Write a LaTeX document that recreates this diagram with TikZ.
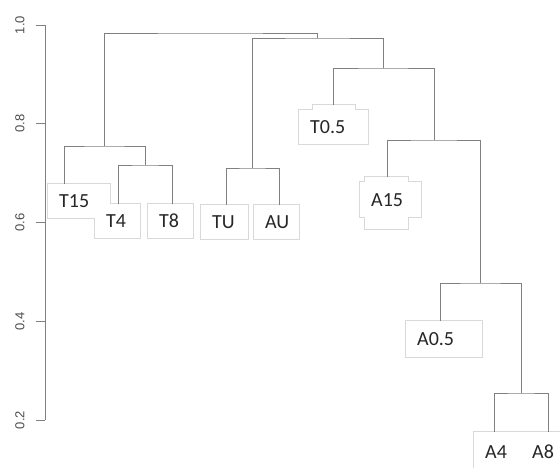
\documentclass[tikz,border=0pt]{standalone}
\usepackage{fontspec}
\setmainfont{Carlito}
\newfontfamily\axisfont{Liberation Sans}
\pgfdeclarelayer{edge}
\pgfsetlayers{edge,main}
\tikzset{
  branch/.style={draw=black!50, line width=1pt},
  axisline/.style={draw=black!50, line width=0.9pt},
  axislabel/.style={rotate=90, text=black!70, font=\axisfont\fontsize{13}{15}\selectfont},
  labbox/.style={fill=white, anchor=north west, minimum height=34pt, inner xsep=11pt, inner ysep=0pt, align=left, text=black!85, font=\fontsize{20}{22}\selectfont},
  boxline/.style={draw=black!15, line width=1.6pt}
}
\begin{document}
\begin{tikzpicture}[x=1pt,y=-1pt]
  \useasboundingbox (0,0) rectangle (560,467);
  \coordinate (axtop) at (45,25) ;
  \coordinate (axbot) at (45,420) ;
  \draw[axisline] (axtop) -- (axbot);
  \foreach \v/\y [count=\i] in {1.0/25, 0.8/123.75, 0.6/222.5, 0.4/321.25, 0.2/420} {
    \coordinate (tick\i) at (45,\y) ;
    \coordinate (tickend\i) at (36,\y) ;
    \draw[axisline] (tick\i) -- (tickend\i);
    \node[axislabel] (ticklab\i) at (20,\y) {\v};
  }
  \coordinate (m1) at (210,33) ;
  \coordinate (m2) at (317,38) ;
  \coordinate (m3) at (383,68) ;
  \coordinate (m4) at (434,140) ;
  \coordinate (m5) at (480,283) ;
  \coordinate (m6) at (521,393) ;
  \coordinate (mT) at (104,146) ;
  \coordinate (mT48) at (145,165) ;
  \coordinate (mU) at (252,168) ;
  \coordinate (t15tip) at (64,184) ;
  \coordinate (t4tip) at (118,204) ;
  \coordinate (t8tip) at (172,204) ;
  \coordinate (tutip) at (226,205) ;
  \coordinate (autip) at (279,205) ;
  \coordinate (t05tip) at (333,105) ;
  \coordinate (a15tip) at (387,177) ;
  \coordinate (a05tip) at (440,321) ;
  \coordinate (a4tip) at (494,432) ;
  \coordinate (a8tip) at (548,432) ;
  \draw[branch] (t15tip) |- (mT) -| (mT48);
  \draw[branch] (t4tip) |- (mT48) -| (t8tip);
  \draw[branch] (tutip) |- (mU) -| (autip);
  \draw[branch] (mT) |- (m1) -| (m2);
  \draw[branch] (mU) |- (m2) -| (m3);
  \draw[branch] (t05tip) |- (m3) -| (m4);
  \draw[branch] (a15tip) |- (m4) -| (m5);
  \draw[branch] (a05tip) |- (m5) -| (m6);
  \draw[branch] (a4tip) |- (m6) -| (a8tip);
  \coordinate (backa) at (313,105) ;
  \coordinate (backa') at (355,140) ;
  \coordinate (backb) at (365,177) ;
  \coordinate (backb') at (408,229) ;
  \fill[white] (backa) rectangle (backa');
  \fill[white] (backb) rectangle (backb');
  \node[labbox, text width=40pt] (t15) at (48,184) {T15};
  \node[labbox, text width=23pt] (t4) at (95,204) {T4};
  \node[labbox, text width=23pt] (t8) at (148,204) {T8};
  \node[labbox, text width=25pt] (tu) at (201,205) {TU};
  \node[labbox, text width=23pt] (au) at (254,205) {AU};
  \node[labbox, text width=47pt] (t05) at (299,110) {T0.5};
  \node[labbox, text width=39pt, minimum height=35pt] (a15) at (360,182) {A15};
  \node[labbox, text width=54pt, minimum height=36pt] (a05) at (406,321) {A0.5};
  \node[labbox, text width=25pt, minimum height=40pt] (a4) at (474,432) {A4};
  \node[labbox, text width=28pt, minimum height=40pt] (a8) at (521,432) {A8};
  \begin{pgfonlayer}{edge}
    \foreach \n in {t15,t4,t8,tu,au,t05,a15,a05,a4,a8}
      \draw[boxline] (\n.north west) rectangle (\n.south east);
    \draw[boxline] (backa) rectangle (backa');
    \draw[boxline] (backb) rectangle (backb');
  \end{pgfonlayer}
\end{tikzpicture}
\end{document}
